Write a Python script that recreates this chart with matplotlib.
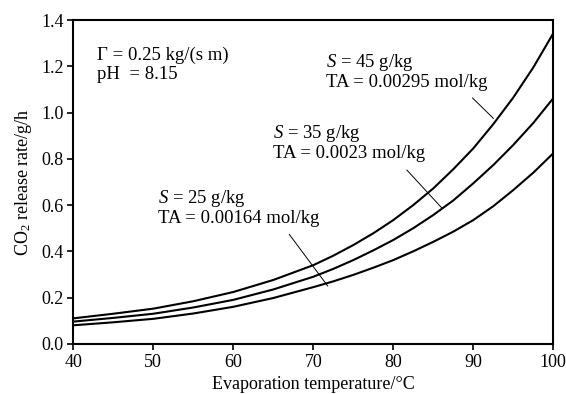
import matplotlib
matplotlib.use("Agg")
import matplotlib.pyplot as plt

plt.rcParams['font.family'] = ['Liberation Serif', 'DejaVu Serif']
plt.rcParams['mathtext.fontset'] = 'custom'
plt.rcParams['mathtext.rm'] = 'Liberation Serif'
plt.rcParams['mathtext.it'] = 'Liberation Serif:italic'

temperature = [40, 45, 50, 55, 60, 65, 70, 72.5, 75, 77.5, 80, 82.5, 85, 87.5, 90, 92.5, 95, 97.5, 100]
rate_s45 = [0.110, 0.130, 0.152, 0.184, 0.224, 0.276, 0.340, 0.381, 0.427, 0.478, 0.535, 0.600, 0.672, 0.755, 0.845, 0.950, 1.065, 1.195, 1.343]
rate_s35 = [0.096, 0.112, 0.130, 0.157, 0.190, 0.235, 0.290, 0.324, 0.362, 0.404, 0.449, 0.500, 0.557, 0.620, 0.694, 0.773, 0.860, 0.955, 1.062]
rate_s25 = [0.080, 0.093, 0.108, 0.131, 0.160, 0.198, 0.245, 0.270, 0.298, 0.329, 0.362, 0.400, 0.441, 0.485, 0.535, 0.595, 0.665, 0.740, 0.824]

x_ticks = [40, 50, 60, 70, 80, 90, 100]
y_ticks = [0.0, 0.2, 0.4, 0.6, 0.8, 1.0, 1.2, 1.4]

fig = plt.figure(figsize=(5.66, 3.94), dpi=100)
ax = fig.add_axes([0.1295, 0.1274, 0.8481, 0.8218])

for r in (rate_s45, rate_s35, rate_s25):
    ax.plot(temperature, r, color='black', lw=1.5, solid_capstyle='butt', solid_joinstyle='round')

ax.set_xlim(40, 100)
ax.set_ylim(0, 1.4)
ax.set_xticks(x_ticks)
ax.set_yticks(y_ticks)
ax.set_xticklabels([str(v) for v in x_ticks])
ax.set_yticklabels([f"{v:.1f}" for v in y_ticks])
ax.tick_params(direction='out', length=4, width=1.2, labelsize=13, pad=3, top=False, right=False)
for s in ax.spines.values():
    s.set_linewidth(1.5)

ax.set_xlabel('Evaporation temperature/°C', fontsize=13, labelpad=4)
ax.set_ylabel('CO$_2$ release rate/g/h', fontsize=13, labelpad=5)

fs = 13.5
ls = 1.12
ax.text(43.0, 1.205, 'Γ = 0.25 kg/(s m)\npH  = 8.15', fontsize=fs, va='center', ha='left', linespacing=ls)

ax.text(71.6, 1.177, '$S$ = 45 g/kg\nTA = 0.00295 mol/kg', fontsize=fs, va='center', ha='left', linespacing=ls)
ax.text(65.0, 0.870, '$S$ = 35 g/kg\nTA = 0.0023 mol/kg', fontsize=fs, va='center', ha='left', linespacing=ls)
ax.text(50.6, 0.589, '$S$ = 25 g/kg\nTA = 0.00164 mol/kg', fontsize=fs, va='center', ha='left', linespacing=ls)

# leader lines
ax.plot([89.9, 92.5], [1.063, 0.975], color='black', lw=0.7)
ax.plot([81.7, 86.1], [0.751, 0.586], color='black', lw=0.7)
ax.plot([67.0, 71.8], [0.473, 0.250], color='black', lw=0.7)

fig.savefig('out.png', dpi=100)
